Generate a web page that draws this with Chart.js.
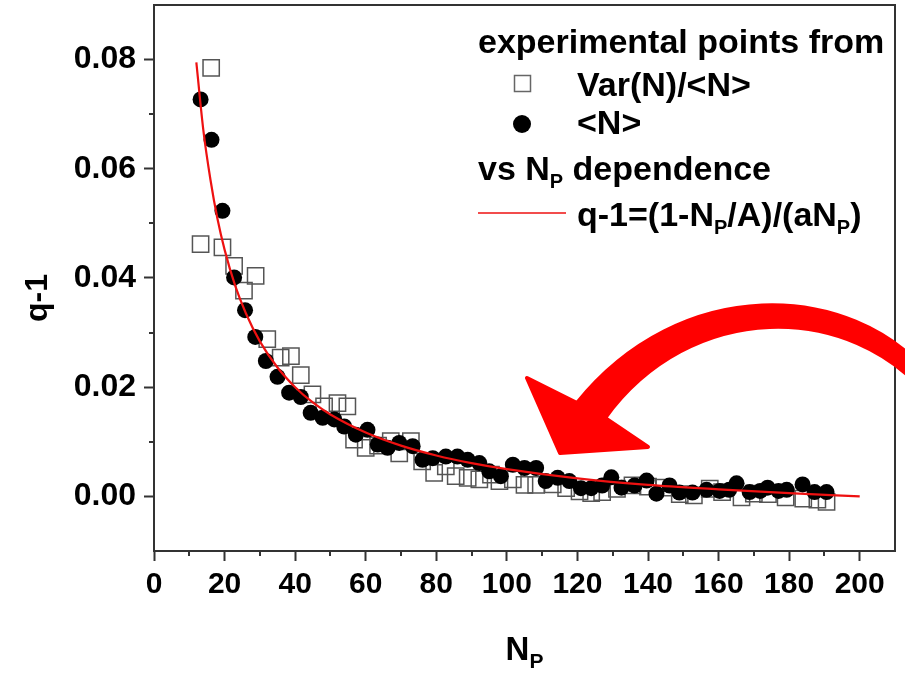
<!DOCTYPE html>
<html>
<head>
<meta charset="utf-8">
<script src="https://cdn.jsdelivr.net/npm/chart.js@4.4.1/dist/chart.umd.min.js"></script>
<style>
  html, body { margin: 0; padding: 0; background: #fff; }
</style>
</head>
<body>
<canvas id="chart" width="905" height="675"></canvas>
<script>
'use strict';

// --- Axis ticks -----------------------------------------------------------
const X_TICKS = [0, 20, 40, 60, 80, 100, 120, 140, 160, 180, 200];
const X_MINOR = [10, 30, 50, 70, 90, 110, 130, 150, 170, 190];
const Y_TICKS = [0, 0.02, 0.04, 0.06, 0.08];
const Y_MINOR = [0.01, 0.03, 0.05, 0.07];

// --- Data ----------------------------------------------------------------
// open squares: Var(N)/<N>
const VAR_X = [16.2, 13.2, 19.4, 22.7, 25.5, 28.8, 32.1, 35.9, 38.8, 41.6, 44.9, 48.2, 52.0, 54.8, 56.7,
  60.0, 63.5, 67.1, 69.5, 72.8, 76.0, 79.4, 82.7, 85.5, 88.9, 92.2, 95.5, 97.9, 101.7, 105.0,
  108.3, 113.0, 116.8, 120.6, 123.9, 127.0, 131.2, 135.6, 140.0, 144.5, 149.0, 153.0, 157.5, 161.0, 166.5,
  170.0, 174.0, 179.0, 184.0, 188.0, 190.6];
const VAR_Y = [0.0785, 0.0462, 0.0456, 0.0422, 0.0377, 0.0404, 0.0288, 0.0254, 0.0257, 0.0222, 0.0187, 0.0165, 0.0171, 0.0165, 0.0104,
  0.0089, 0.0093, 0.0101, 0.0079, 0.0101, 0.0064, 0.0043, 0.0055, 0.0037, 0.0034, 0.0031, 0.0040, 0.0028, 0.0031, 0.0021,
  0.0021, 0.0022, 0.0015, 0.0009, 0.0006, 0.0008, 0.0014, 0.0020, 0.0018, 0.0016, 0.0004, 0.0002, 0.0014, 0.0008, -0.0002,
  0.0005, 0.0004, -0.0002, -0.0004, -0.0006, -0.0010];

// filled circles: <N>
const MEAN_X = [13.2, 16.3, 19.4, 22.7, 25.8, 28.7, 31.7, 35.0, 38.3, 41.6, 44.4, 47.8, 51.1, 53.9, 57.2,
  60.5, 63.4, 66.2, 69.5, 73.3, 76.1, 79.0, 82.7, 86.0, 88.9, 92.2, 95.0, 98.3, 101.7, 105.0,
  108.3, 111.0, 114.4, 117.7, 121.0, 123.9, 127.0, 129.6, 132.5, 136.2, 139.6, 142.4, 146.1, 148.9, 152.6,
  156.6, 160.3, 163.0, 165.1, 168.8, 171.8, 173.9, 177.0, 179.3, 183.8, 187.2, 190.6];
const MEAN_Y = [0.0727, 0.0653, 0.0523, 0.0401, 0.0341, 0.0292, 0.0248, 0.0219, 0.0190, 0.0182, 0.0153, 0.0144, 0.0141, 0.0128, 0.0113,
  0.0122, 0.0095, 0.0089, 0.0098, 0.0092, 0.0067, 0.0070, 0.0073, 0.0073, 0.0067, 0.0061, 0.0046, 0.0037, 0.0058, 0.0052,
  0.0052, 0.0028, 0.0034, 0.0028, 0.0015, 0.0015, 0.0020, 0.0035, 0.0016, 0.0020, 0.0029, 0.0005, 0.0020, 0.0007, 0.0007,
  0.0012, 0.0010, 0.0012, 0.0024, 0.0008, 0.0010, 0.0016, 0.0010, 0.0012, 0.0022, 0.0008, 0.0008];

// red fit curve q-1=(1-Np/A)/(aNp)
const FIT_X = [12, 14, 16, 18, 20, 23, 26, 30, 35, 40, 45, 50, 60, 70, 80, 90, 100, 120, 140, 160, 180, 200];
const FIT_Y = [0.0795, 0.0670, 0.0580, 0.0508, 0.0452, 0.0386, 0.0336, 0.0284, 0.0236, 0.0200, 0.0172, 0.0150,
  0.0117, 0.0093, 0.0075, 0.0061, 0.0050, 0.0033, 0.0021, 0.0013, 0.0006, 0.0000];

const FONT = "'Liberation Sans', Arial, sans-serif";
const AXIS = '#333';
const RED = '#ee1111';

function pts(xs, ys) { return xs.map((x, i) => ({ x, y: ys[i] })); }

// texto com subscritos: parts = [[texto, sub?], ...]
function drawRich(ctx, parts, x, y, size, subSize) {
  ctx.textAlign = 'left';
  ctx.textBaseline = 'alphabetic';
  let cx = x;
  for (const [t, sub] of parts) {
    ctx.font = `bold ${sub ? subSize : size}px ${FONT}`;
    ctx.fillText(t, cx, sub ? y + size * 0.24 : y);
    cx += ctx.measureText(t).width;
  }
  return cx - x;
}

function richWidth(ctx, parts, size, subSize) {
  let w = 0;
  for (const [t, sub] of parts) {
    ctx.font = `bold ${sub ? subSize : size}px ${FONT}`;
    w += ctx.measureText(t).width;
  }
  return w;
}

const decor = {
  id: 'decor',
  afterDraw(chart) {
    const { ctx, chartArea: a, scales: { x, y } } = chart;
    ctx.save();

    // moldura (topo e direita) + ticks menores
    ctx.strokeStyle = AXIS;
    ctx.lineWidth = 2;
    ctx.beginPath();
    ctx.moveTo(a.left - 1, a.top);
    ctx.lineTo(a.right, a.top);
    ctx.lineTo(a.right, a.bottom + 1);
    X_MINOR.forEach((v) => {
      const px = Math.round(x.getPixelForValue(v));
      ctx.moveTo(px, a.bottom);
      ctx.lineTo(px, a.bottom + 5);
    });
    Y_MINOR.forEach((v) => {
      const py = Math.round(y.getPixelForValue(v));
      ctx.moveTo(a.left, py);
      ctx.lineTo(a.left - 5, py);
    });
    ctx.stroke();

    ctx.fillStyle = '#000';

    // titulo eixo y
    ctx.save();
    ctx.translate(38, 298);
    ctx.rotate(-Math.PI / 2);
    ctx.font = `bold 32px ${FONT}`;
    ctx.textAlign = 'center';
    ctx.textBaseline = 'middle';
    ctx.fillText('q-1', 0, 0);
    ctx.restore();

    // titulo eixo x: N_P
    const xt = [['N', false], ['P', true]];
    const xw = richWidth(ctx, xt, 33, 21);
    drawRich(ctx, xt, (a.left + a.right) / 2 - xw / 2, 660, 33, 21);

    // legenda
    drawRich(ctx, [['experimental points from', false]], 478, 53, 34, 20);
    drawRich(ctx, [['Var(N)/<N>', false]], 577, 96, 34, 20);
    drawRich(ctx, [['<N>', false]], 577, 134, 34, 20);
    drawRich(ctx, [['vs N', false], ['P', true], [' dependence', false]], 478, 180, 34, 20);
    drawRich(ctx, [['q-1=(1-N', false], ['P', true], ['/A)/(aN', false], ['P', true], [')', false]], 577, 226, 34, 20);

    ctx.strokeStyle = '#666';
    ctx.lineWidth = 1.5;
    ctx.strokeRect(514.5, 75.5, 16, 16);
    ctx.beginPath();
    ctx.arc(522, 124, 9, 0, Math.PI * 2);
    ctx.fill();
    ctx.strokeStyle = RED;
    ctx.lineWidth = 1.5;
    ctx.beginPath();
    ctx.moveTo(478, 213);
    ctx.lineTo(566, 213);
    ctx.stroke();

    // seta vermelha grande
    ctx.fillStyle = '#ff0000';
    ctx.strokeStyle = '#ff0000';
    ctx.lineWidth = 4;
    ctx.lineJoin = 'round';
    ctx.beginPath();
    ctx.moveTo(577, 403);
    ctx.lineTo(527, 378);
    ctx.lineTo(560, 453);
    ctx.lineTo(648, 447);
    ctx.lineTo(605, 418);
    ctx.bezierCurveTo(690, 300, 850, 300, 930, 398);
    ctx.lineTo(930, 376);
    ctx.bezierCurveTo(850, 280, 680, 275, 577, 403);
    ctx.closePath();
    ctx.fill();
    ctx.stroke();

    ctx.restore();
  },
};

new Chart(document.getElementById('chart'), {
  type: 'scatter',
  data: {
    datasets: [
      {
        label: 'q-1=(1-NP/A)/(aNP)',
        data: pts(FIT_X, FIT_Y),
        showLine: true,
        borderColor: RED,
        borderWidth: 2.2,
        pointRadius: 0,
        cubicInterpolationMode: 'monotone',
        order: 0,
      },
      {
        label: '<N>',
        data: pts(MEAN_X, MEAN_Y),
        pointStyle: 'circle',
        pointRadius: 8,
        backgroundColor: '#000',
        borderColor: '#000',
        borderWidth: 0,
        order: 1,
      },
      {
        label: 'Var(N)/<N>',
        data: pts(VAR_X, VAR_Y),
        pointStyle: 'rect',
        pointRadius: 11.5,
        backgroundColor: 'rgba(0,0,0,0)',
        borderColor: '#555',
        borderWidth: 1.5,
        order: 2,
      },
    ],
  },
  options: {
    responsive: false,
    animation: false,
    layout: { autoPadding: false, padding: { top: 5, right: 10, left: 0, bottom: 0 } },
    plugins: { legend: { display: false }, tooltip: { enabled: false } },
    scales: {
      x: {
        type: 'linear',
        min: 0,
        max: 210,
        afterBuildTicks: (s) => { s.ticks = X_TICKS.map((v) => ({ value: v })); },
        afterFit: (s) => { s.height = 124; s.paddingLeft = 0; s.paddingRight = 0; },
        grid: { drawOnChartArea: false, drawTicks: true, tickLength: 10, tickColor: AXIS, tickWidth: 2 },
        border: { color: AXIS, width: 2 },
        ticks: {
          color: '#000',
          font: { family: FONT, size: 30, weight: 'bold' },
          padding: 6,
          maxRotation: 0,
          autoSkip: false,
        },
      },
      y: {
        type: 'linear',
        min: -0.01,
        max: 0.09,
        afterBuildTicks: (s) => { s.ticks = Y_TICKS.map((v) => ({ value: v })); },
        afterFit: (s) => { s.width = 154; s.paddingTop = 0; s.paddingBottom = 0; },
        grid: { drawOnChartArea: false, drawTicks: true, tickLength: 10, tickColor: AXIS, tickWidth: 2 },
        border: { color: AXIS, width: 2 },
        ticks: {
          color: '#000',
          font: { family: FONT, size: 32, weight: 'bold' },
          padding: 8,
          callback: (v) => Number(v).toFixed(2),
        },
      },
    },
  },
  plugins: [decor],
});
</script>
</body>
</html>
